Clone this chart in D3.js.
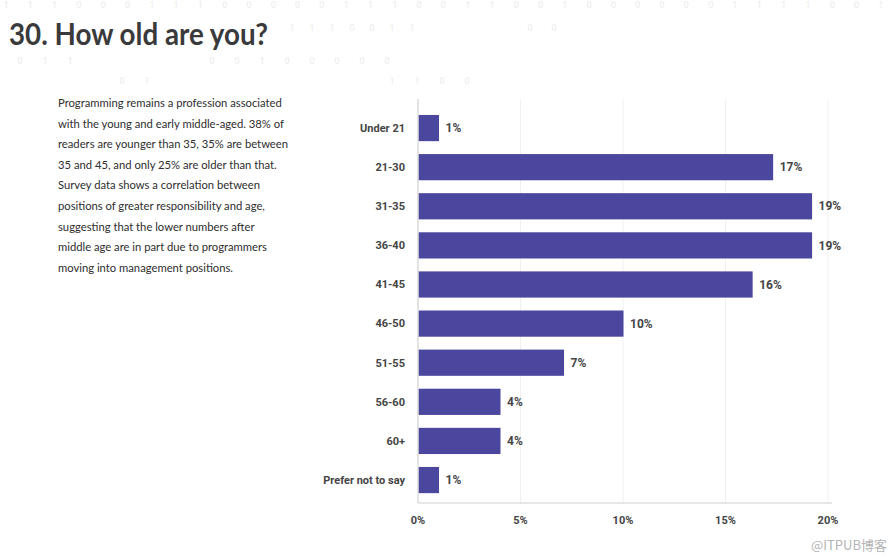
<!DOCTYPE html>
<html>
<head>
<meta charset="utf-8">
<script src="https://cdn.jsdelivr.net/npm/d3@7"></script>
<style>
  html, body { margin: 0; padding: 0; background: #fff; }
  svg { display: block; }
</style>
</head>
<body>
<svg id="chart" width="890" height="560"></svg>
<script>
const categories = ["Under 21", "21-30", "31-35", "36-40", "41-45", "46-50", "51-55", "56-60", "60+", "Prefer not to say"];
const values = [1.0, 17.3, 19.2, 19.2, 16.3, 10.0, 7.1, 4.0, 4.0, 1.0];
const valueLabels = ["1%", "17%", "19%", "19%", "16%", "10%", "7%", "4%", "4%", "1%"];
const xTicks = [0, 5, 10, 15, 20];
const titleText = "30. How old are you?";
const paragraph = [
  "Programming remains a profession associated",
  "with the young and early middle-aged. 38% of",
  "readers are younger than 35, 35% are between",
  "35 and 45, and only 25% are older than that.",
  "Survey data shows a correlation between",
  "positions of greater responsibility and age,",
  "suggesting that the lower numbers after",
  "middle age are in part due to programmers",
  "moving into management positions."
];
// decorative faint binary digits
const binaryRow0 = "1110001110000011100110010000001111001";
const binaryRow1 = ["1", "1", "1", "0", "0", "1", "1"];
const binaryRow1b = ["0", "0"];
const binaryRow2 = ["0", "1", "1"];
const binaryRow2b = ["0", "0", "1", "0", "0", "0", "0", "0"];
const binaryRow3 = ["0", "1"];
const binaryRow3b = ["1", "1", "0", "0"];

const svg = d3.select("#chart");

// faint binary background
const bg = svg.append("g")
  .attr("font-family", "Roboto, sans-serif").attr("font-size", 9)
  .attr("fill", "#ebebeb").attr("text-anchor", "middle");
function digitRow(digits, x0, step, yy) {
  bg.append("g").selectAll("text").data(digits).join("text")
    .attr("x", (d, i) => x0 + i * step).attr("y", yy).text(d => d);
}
digitRow(binaryRow0.split(""), 6, 24.3, 8);
digitRow(binaryRow1, 292, 20, 31);
digitRow(binaryRow1b, 530, 24, 31);
digitRow(binaryRow2, 20, 25, 64);
digitRow(binaryRow2b, 212, 25, 64);
digitRow(binaryRow3, 122, 25, 84);
digitRow(binaryRow3b, 392, 25, 84);

// title
svg.append("text")
  .attr("x", 9).attr("y", 45)
  .attr("font-family", "Lato, sans-serif").attr("font-weight", 700)
  .attr("font-size", 30).attr("fill", "#3a3a3c")
  .attr("textLength", 259).attr("lengthAdjust", "spacingAndGlyphs")
  .text(titleText);

// paragraph
svg.append("g").attr("transform", "translate(58,0) scale(0.915,1)")
  .selectAll("text").data(paragraph).join("text")
  .attr("x", 0).attr("y", (d, i) => 107 + i * 20.6)
  .attr("font-family", "Lato, sans-serif").attr("font-size", 12.3)
  .attr("fill", "#2e2e2e")
  .text(d => d);

// chart
const x = d3.scaleLinear().domain([0, 20]).range([418, 828]);
const y = d3.scaleBand().domain(categories).range([108.5, 499.6]).paddingInner(0.33).paddingOuter(0.165);

// gridlines
svg.append("g").selectAll("line").data(xTicks.filter(t => t > 0)).join("line")
  .attr("x1", d => x(d)).attr("x2", d => x(d))
  .attr("y1", 99).attr("y2", 503)
  .attr("stroke", "#f0f0f0").attr("stroke-width", 1);

// bars
svg.append("g").selectAll("rect").data(values).join("rect")
  .attr("x", x(0) + 0.5)
  .attr("y", (d, i) => y(categories[i]))
  .attr("width", d => x(d) - x(0))
  .attr("height", y.bandwidth())
  .attr("fill", "#4b479e");

// axes lines
svg.append("line").attr("x1", x(0)).attr("x2", x(0)).attr("y1", 99).attr("y2", 503)
  .attr("stroke", "#d0d0d0").attr("stroke-width", 1.2);
svg.append("line").attr("x1", x(0)).attr("x2", x(20) + 4).attr("y1", 503).attr("y2", 503)
  .attr("stroke", "#d0d0d0").attr("stroke-width", 1.2);

// category labels
svg.append("g").selectAll("text").data(categories).join("text")
  .attr("x", 405).attr("y", d => y(d) + y.bandwidth() / 2)
  .attr("dy", "0.35em").attr("text-anchor", "end")
  .attr("font-family", "Roboto, sans-serif").attr("font-weight", 700)
  .attr("font-size", 11).attr("fill", "#444")
  .text(d => d);

// value labels
svg.append("g").selectAll("text").data(values).join("text")
  .attr("x", d => x(d) + 7).attr("y", (d, i) => y(categories[i]) + y.bandwidth() / 2)
  .attr("dy", "0.35em")
  .attr("font-family", "Roboto, sans-serif").attr("font-weight", 700)
  .attr("font-size", 12).attr("fill", "#444")
  .text((d, i) => valueLabels[i]);

// x tick labels
svg.append("g").selectAll("text").data(xTicks).join("text")
  .attr("x", d => x(d)).attr("y", 524)
  .attr("text-anchor", "middle")
  .attr("font-family", "Roboto, sans-serif").attr("font-weight", 700)
  .attr("font-size", 11).attr("fill", "#444")
  .text(d => d + "%");

// watermark
svg.append("text").attr("x", 887).attr("y", 550).attr("text-anchor", "end")
  .attr("font-family", "'Noto Sans CJK SC', sans-serif").attr("font-size", 13)
  .attr("fill", "#b5b5b5").text("@ITPUB博客");
</script>
</body>
</html>
